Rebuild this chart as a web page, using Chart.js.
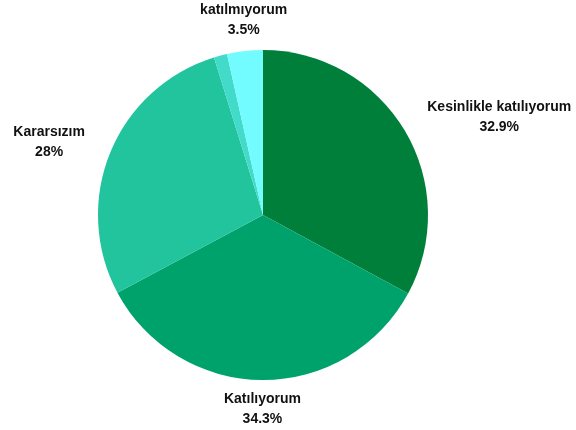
<!DOCTYPE html>
<html>
<head>
<meta charset="utf-8">
<script src="https://cdn.jsdelivr.net/npm/chart.js@4"></script>
<style>
  html, body { margin: 0; padding: 0; background: #fff; }
  #wrap { width: 576px; height: 430px; }
</style>
</head>
<body>
<div id="wrap"><canvas id="myChart-pie"></canvas></div>
<script>
// data
const categories = ['Kesinlikle katılıyorum', 'Katılıyorum', 'Kararsızım', 'Katılmıyorum', 'Kesinlikle katılmıyorum'];
const shares = [32.9, 34.3, 28, 1.3, 3.5];
const sliceColors = ['#007f3b', '#00a26c', '#22c49d', '#42dbc9', '#72fcff'];

const ctxPie = document.getElementById('myChart-pie').getContext('2d');

// labels outside the pie, no leader lines
const outsideLabels = {
  id: 'outsideLabels',
  afterDatasetsDraw(chart) {
    const ctx = chart.ctx;
    const meta = chart.getDatasetMeta(0);
    ctx.save();
    ctx.font = 'bold 14px "Liberation Sans", Arial, sans-serif';
    ctx.fillStyle = '#111';
    const lineH = 20;
    meta.data.forEach((arc, i) => {
      const val = shares[i];
      if (val < 2) return; // too small, hidden
      const mid = (arc.startAngle + arc.endAngle) / 2;
      const dx = Math.cos(mid), dy = Math.sin(mid);
      const r = arc.outerRadius + 9 + 20 * Math.abs(dx);
      const ax = arc.x + dx * r, ay = arc.y + dy * r;
      let lines = [categories[i]];
      if (Math.abs(dx) < 0.3 && ctx.measureText(categories[i]).width > 120) {
        lines = categories[i].split(' ');
      }
      lines.push(val + '%');
      ctx.textAlign = 'center';
      ctx.textBaseline = 'middle';
      const w = Math.max(...lines.map(l => ctx.measureText(l).width));
      const h = lines.length * lineH;
      let cx = ax;
      if (dx > 0.3) cx = ax + w / 2;
      if (dx < -0.3) cx = ax - w / 2;
      let top = ay - h / 2;
      if (dy < -0.6) top = ay - h;
      if (dy > 0.6) top = ay;
      lines.forEach((l, k) => ctx.fillText(l, cx, top + lineH * k + lineH / 2));
    });
    ctx.restore();
  }
};

const dataPie = {
  labels: categories,
  datasets: [{
    data: shares,
    backgroundColor: sliceColors,
    borderWidth: 0
  }]
};

const configPie = {
  type: 'pie',
  data: dataPie,
  options: {
    responsive: true,
    maintainAspectRatio: false,
    animation: false,
    layout: {
      padding: { top: 50, bottom: 50, left: 0, right: 50 }
    },
    plugins: {
      legend: { display: false },
      tooltip: { enabled: false }
    }
  },
  plugins: [outsideLabels]
};

const myChartPie = new Chart(ctxPie, configPie);
</script>
</body>
</html>
